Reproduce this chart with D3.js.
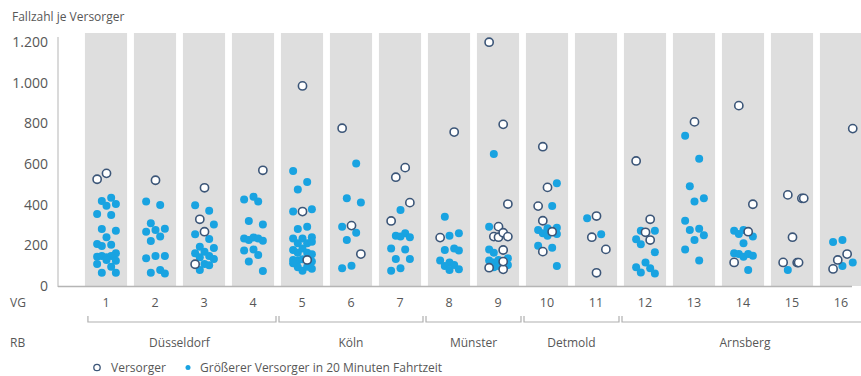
<!DOCTYPE html>
<html lang="de">
<head>
  <meta charset="UTF-8">
  <title>Fallzahl je Versorger</title>
  <script src="https://d3js.org/d3.v7.min.js"></script>
  <style>
    body {
      margin: 0;
      background-color: #ffffff;
      font-family: "Open Sans", sans-serif;
    }
    svg {
      display: block;
    }
    text {
      fill: #575757;
      font-size: 12px;
    }
    .y-axis text {
      font-size: 14px;
    }
  </style>
</head>
<body>
  <svg id="chart"></svg>
  <script>
    // Versorgungsgebiete (VG) und Regierungsbezirke (RB)
    const vgList = d3.range(1, 17);
    const rbNames = ["Düsseldorf", "Köln", "Münster", "Detmold", "Arnsberg"];
    const rbFirst = [1, 5, 8, 10, 12];
    const rbLast = [4, 7, 9, 11, 16];
    const yTicks = [0, 200, 400, 600, 800, 1000, 1200];

    // [VG, Fallzahl, Spalte im Streifen]
    const versorger = [
      [1, 525, -2], [1, 554, 0],
      [2, 520, 0],
      [3, 483, 0], [3, 328, -1], [3, 267, 0], [3, 107, -2],
      [4, 569, 2],
      [5, 984, 0], [5, 366, 0], [5, 128, 1],
      [6, 776, -2], [6, 297, 0], [6, 157, 2],
      [7, 582, 1], [7, 535, -1], [7, 410, 2], [7, 320, -2],
      [8, 757, 1], [8, 238, -2],
      [9, 1199, -2], [9, 795, 1], [9, 403, 2], [9, 292, 0], [9, 243, -1], [9, 240, 0],
      [9, 262, 1], [9, 243, 2], [9, 177, 1], [9, 90, -2], [9, 82, 1], [9, 120, 1],
      [10, 685, -1], [10, 485, 0], [10, 393, -2], [10, 321, -1], [10, 267, 1], [10, 169, -1],
      [11, 344, 0], [11, 240, -1], [11, 180, 2], [11, 65, 0],
      [12, 615, -2], [12, 328, 1], [12, 264, 0], [12, 226, 1],
      [13, 807, 0],
      [14, 887, -1], [14, 402, 2], [14, 267, 1], [14, 116, -2],
      [15, 448, -1], [15, 431, 2], [15, 431, 2.4], [15, 240, 0], [15, 116, -2], [15, 115, 1], [15, 115, 1.3],
      [16, 774, 2.4], [16, 157, 1.2], [16, 128, -0.8], [16, 84, -1.8]
    ];

    const groesserer = [
      [1, 418, -1], [1, 434, 1], [1, 395, 0], [1, 403, 2], [1, 354, -2], [1, 349, 1], [1, 280, -1],
      [1, 272, 2], [1, 240, 0], [1, 207, -2], [1, 197, -1], [1, 203, 1], [1, 161, 2], [1, 144, -2],
      [1, 148, -1], [1, 141, 0], [1, 148, 1], [1, 124, 2], [1, 128, 0], [1, 108, -2], [1, 95, 1],
      [1, 65, -1], [1, 65, 2],
      [2, 415, -2], [2, 398, 1], [2, 308, -1], [2, 267, -2], [2, 275, 0], [2, 282, 2], [2, 243, 1],
      [2, 221, -1], [2, 136, -2], [2, 148, 0], [2, 148, 2], [2, 65, -1], [2, 79, 1], [2, 62, 2],
      [3, 397, -2], [3, 370, 1], [3, 303, 2], [3, 254, -2], [3, 231, 1], [3, 193, -1], [3, 187, 2],
      [3, 161, -2], [3, 169, 0], [3, 148, 1], [3, 141, -1], [3, 133, 2], [3, 108, 0], [3, 102, 1],
      [3, 79, -1],
      [4, 426, -2], [4, 439, 0], [4, 415, 1], [4, 320, -1], [4, 303, 2], [4, 234, -2], [4, 226, -1],
      [4, 239, 0], [4, 234, 1], [4, 223, 2], [4, 174, -2], [4, 180, 0], [4, 152, 1], [4, 121, -1],
      [4, 74, 2],
      [5, 566, -2], [5, 511, 1], [5, 475, -1], [5, 366, -2], [5, 377, 2], [5, 280, -1], [5, 292, 1],
      [5, 234, -2], [5, 234, 0], [5, 240, 2], [5, 210, -1], [5, 210, 1], [5, 218, 2], [5, 177, -2],
      [5, 185, 0], [5, 164, -1], [5, 164, 1], [5, 156, 2], [5, 128, -2], [5, 125, -1], [5, 131, 0],
      [5, 120, 2], [5, 92, -1], [5, 75, 0], [5, 95, 1], [5, 85, 2], [5, 112, -2],
      [6, 603, 1], [6, 431, -1], [6, 411, 2], [6, 292, -2], [6, 262, 1], [6, 226, -1], [6, 87, -2],
      [6, 100, 0],
      [7, 374, 0], [7, 247, -1], [7, 259, 1], [7, 243, 0], [7, 240, 2], [7, 185, -2], [7, 180, 1],
      [7, 133, -1], [7, 133, 2], [7, 87, 0], [7, 75, -2],
      [8, 341, -1], [8, 247, 0], [8, 259, 2], [8, 177, -1], [8, 185, 1], [8, 174, 2], [8, 125, -2],
      [8, 116, 0], [8, 103, 1], [8, 98, -1], [8, 82, 2], [8, 79, 0],
      [9, 649, -1], [9, 292, -2], [9, 180, -2], [9, 164, -1], [9, 125, -2], [9, 116, -1], [9, 128, 0],
      [9, 136, 2], [9, 103, 2], [9, 98, 0], [9, 92, -1],
      [10, 505, 2], [10, 393, 1], [10, 275, -2], [10, 284, 0], [10, 287, 2], [10, 259, -1],
      [10, 247, 0], [10, 256, 2], [10, 198, -2], [10, 188, 1], [10, 98, 2],
      [11, 333, -2], [11, 254, 1],
      [12, 272, -1], [12, 272, 2], [12, 230, -2], [12, 205, -1], [12, 166, 2], [12, 92, -2],
      [12, 116, 0], [12, 67, -1], [12, 87, 1], [12, 62, 2],
      [13, 739, -2], [13, 626, 1], [13, 490, -1], [13, 415, 0], [13, 431, 2], [13, 321, -2],
      [13, 275, -1], [13, 282, 1], [13, 249, 2], [13, 226, 0], [13, 180, -2], [13, 125, 1],
      [14, 272, -2], [14, 256, -1], [14, 275, 0], [14, 243, 2], [14, 210, 0], [14, 161, -2],
      [14, 157, -1], [14, 144, 0], [14, 157, 1], [14, 149, 2], [14, 79, 1],
      [15, 79, -1],
      [16, 216, -1.8], [16, 226, 0.2], [16, 115, 2.4], [16, 98, 0.2]
    ];

    const width = 861;
    const height = 376;
    const blue = "#19a3e1";
    const navy = "#3c5678";

    const svg = d3.select("#chart")
      .attr("width", width)
      .attr("height", height);

    // scales
    const x = d3.scaleBand()
      .domain(vgList)
      .range([81.5, 865.5])
      .paddingInner(0.14)
      .paddingOuter(0.07);

    const y = d3.scaleLinear()
      .domain([0, 1200])
      .range([286, 42]);

    const jitter = d3.scaleLinear()
      .domain([-4.5, 4.5])
      .range([0.5, x.bandwidth() + 0.5]);

    const px = d => x(d[0]) + jitter(d[2]);

    // grey strips
    svg.append("g")
      .selectAll("rect")
      .data(vgList)
      .join("rect")
      .attr("x", d => x(d))
      .attr("y", 33)
      .attr("width", x.bandwidth())
      .attr("height", y(0) - 33)
      .attr("fill", "#dedede");

    // y axis
    const yAxis = svg.append("g")
      .attr("class", "y-axis")
      .attr("transform", "translate(58,0)")
      .call(d3.axisLeft(y)
        .tickValues(yTicks)
        .tickSize(0)
        .tickPadding(10)
        .tickFormat(d => d3.format(",")(d).replace(/,/g, ".")));
    yAxis.attr("font-family", "'Open Sans', sans-serif");
    yAxis.select(".domain")
      .attr("stroke", "#b5b5b5")
      .attr("d", "M0," + (y(1200) - 5) + "V" + (y(0) + 1));

    // baseline
    svg.append("line")
      .attr("x1", 58)
      .attr("x2", 852)
      .attr("y1", y(0) + 0.5)
      .attr("y2", y(0) + 0.5)
      .attr("stroke", "#b5b5b5")
      .attr("stroke-width", 1.5);

    // title
    svg.append("text")
      .attr("x", 12)
      .attr("y", 21)
      .text("Fallzahl je Versorger");

    // Größerer Versorger (filled)
    svg.append("g")
      .selectAll("circle")
      .data(groesserer)
      .join("circle")
      .attr("cx", px)
      .attr("cy", d => y(d[1]))
      .attr("r", 4)
      .attr("fill", blue);

    // Versorger (open)
    svg.append("g")
      .selectAll("circle")
      .data(versorger)
      .join("circle")
      .attr("cx", px)
      .attr("cy", d => y(d[1]))
      .attr("r", 4.1)
      .attr("fill", "#ffffff")
      .attr("stroke", navy)
      .attr("stroke-width", 1.6);

    // VG row
    svg.append("text")
      .attr("x", 10)
      .attr("y", 307)
      .text("VG");

    svg.append("g")
      .selectAll("text")
      .data(vgList)
      .join("text")
      .attr("x", d => x(d) + x.bandwidth() / 2)
      .attr("y", 307)
      .attr("text-anchor", "middle")
      .style("font-size", "12.5px")
      .text(d => d);

    // RB brackets
    const gap = x.step() - x.bandwidth();
    const brackets = svg.append("g")
      .selectAll("g")
      .data(rbNames)
      .join("g");

    brackets.append("path")
      .attr("fill", "none")
      .attr("stroke", "#b0b0b0")
      .attr("stroke-width", 1.2)
      .attr("d", (d, i) => {
        const x0 = i === 0 ? x(rbFirst[i]) + 3 : x(rbFirst[i]) - gap / 2 + 1.5;
        const x1 = i === rbNames.length - 1 ? width + 2 : x(rbLast[i]) + x.bandwidth() + gap / 2 - 1.5;
        return "M" + x0 + ",316V322H" + x1 + "V316";
      });

    brackets.append("text")
      .attr("x", (d, i) => i === rbNames.length - 1
        ? 745
        : (x(rbFirst[i]) + x(rbLast[i]) + x.bandwidth()) / 2)
      .attr("y", 347)
      .attr("text-anchor", "middle")
      .text(d => d);

    svg.append("text")
      .attr("x", 10)
      .attr("y", 347)
      .text("RB");

    // legend
    const legend = svg.append("g");
    legend.append("circle")
      .attr("cx", 97)
      .attr("cy", 367.5)
      .attr("r", 3.2)
      .attr("fill", "#ffffff")
      .attr("stroke", navy)
      .attr("stroke-width", 1.3);
    legend.append("text")
      .attr("x", 111)
      .attr("y", 372)
      .text("Versorger");
    legend.append("circle")
      .attr("cx", 188)
      .attr("cy", 367.5)
      .attr("r", 2.5)
      .attr("fill", blue);
    legend.append("text")
      .attr("x", 200)
      .attr("y", 372)
      .text("Größerer Versorger in 20 Minuten Fahrtzeit");
  </script>
</body>
</html>
